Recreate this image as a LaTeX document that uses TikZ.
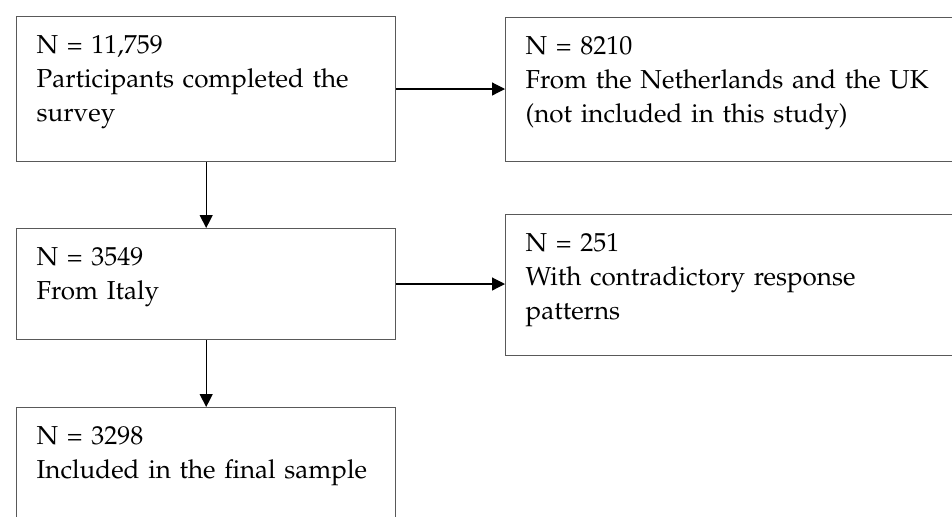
\documentclass[tikz,border=0pt]{standalone}
\usepackage[T1]{fontenc}
\usepackage{mathpazo}
\usetikzlibrary{arrows.meta}
\newcommand{\boxfont}{\fontsize{13}{17}\selectfont\hyphenpenalty=10000\relax}
\tikzset{
  flowbox/.style={draw=black!65, line width=0.7pt, anchor=north west, align=left,
    inner xsep=10pt, inner ysep=9pt, text height=9.3pt, font=\boxfont},
  leftbox/.style={flowbox, text width=169.5pt},
  rightbox/.style={flowbox, text width=230pt},
  flowarrow/.style={draw=black, line width=0.6pt, -{Triangle[width=6.5pt,length=6.5pt]}}
}
\begin{document}
\begin{tikzpicture}[x=0.5pt,y=-0.5pt]
  \useasboundingbox (0,0) rectangle (952,516);
  \clip (0,0) rectangle (952,516);
  % main column
  \node[leftbox, text depth=45pt] (survey) at (16,16) {N = 11,759\\Participants completed the\\survey};
  \node[leftbox, text depth=28pt] (italy) at (16,228) {N = 3549\\From Italy};
  \node[leftbox, text depth=45pt] (final) at (16,407) {N = 3298\\Included in the final sample};
  % excluded
  \node[rightbox, text depth=44.5pt] (other) at (505,17) {N = 8210\\From the Netherlands and the UK\\(not included in this study)};
  \node[rightbox, text depth=43pt] (contra) at (505,214) {N = 251\\With contradictory response\\patterns};
  \draw[flowarrow] (survey.south) -- (italy.north);
  \draw[flowarrow] (italy.south) -- (final.north);
  \draw[flowarrow] (survey.east) -- (survey.east -| other.west);
  \draw[flowarrow] (italy.east) -- (italy.east -| contra.west);
\end{tikzpicture}
\end{document}
